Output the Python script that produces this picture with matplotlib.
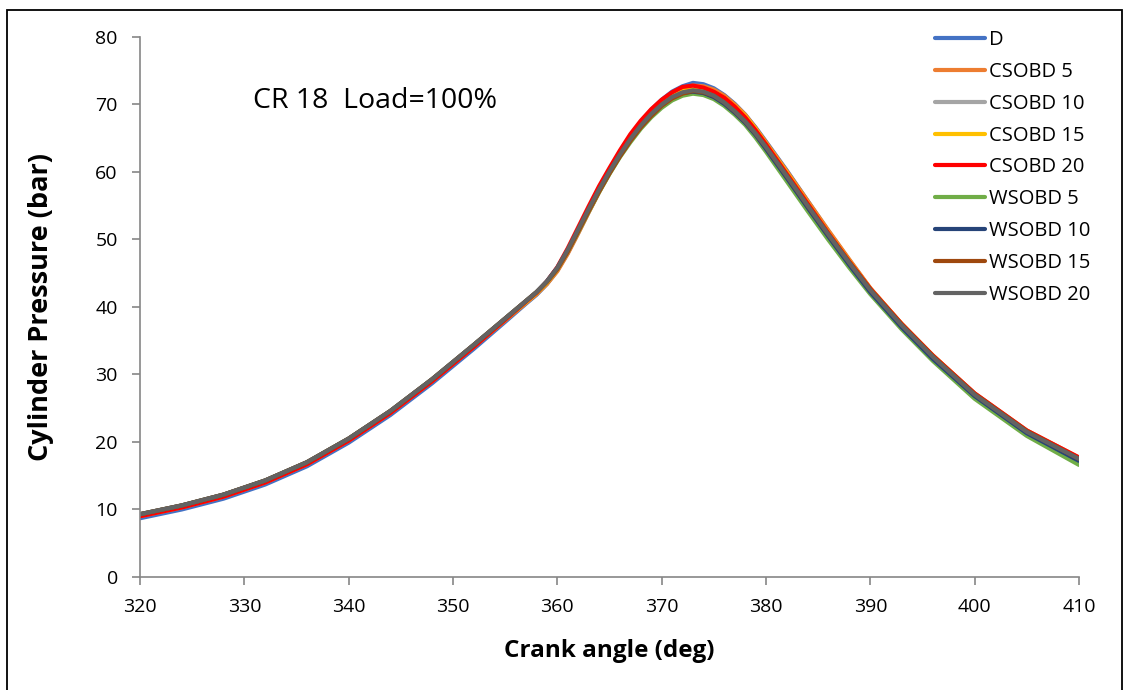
import matplotlib
matplotlib.use("Agg")
import matplotlib.pyplot as plt
from matplotlib.patches import Rectangle

plt.rcParams['font.family'] = ['Open Sans', 'DejaVu Sans']

# crank angle positions (deg), finer steps around the combustion peak
crank_angle = [320, 324, 328, 332, 336, 340, 344, 348, 352, 355, 357,
               358, 359, 360, 361, 362, 363, 364, 365, 366, 367, 368, 369,
               370, 371, 372, 373, 374, 375, 376, 377, 378, 379, 380,
               382, 384, 386, 388, 390, 393, 396, 400, 405, 410]

# cylinder pressure (bar) for each fuel blend
p_d = [8.7, 10.0, 11.6, 13.7, 16.4, 19.9, 24.0, 28.7, 33.8, 37.8, 40.5,
       41.8, 43.4, 45.4, 48.0, 51.0, 54.1, 57.1, 59.9, 62.6, 65.0, 67.3, 69.2,
       70.7, 71.9, 72.7, 73.2, 73.0, 72.4, 71.4, 70.1, 68.5, 66.6, 64.5,
       60.2, 55.7, 51.2, 46.9, 42.7, 37.3, 32.5, 26.9, 21.4, 17.4]
p_csobd5 = [9.0, 10.3, 11.9, 14.0, 16.7, 20.2, 24.3, 29.0, 34.1, 38.0, 40.6,
            41.9, 43.4, 45.3, 47.9, 50.9, 54.0, 57.0, 59.8, 62.4, 64.8, 67.0, 68.9,
            70.4, 71.6, 72.4, 72.8, 72.7, 72.2, 71.3, 70.0, 68.5, 66.5, 64.4,
            60.1, 55.7, 51.3, 47.0, 42.8, 37.5, 32.8, 27.2, 21.7, 17.7]
p_csobd10 = [9.2, 10.5, 12.1, 14.2, 16.9, 20.4, 24.5, 29.2, 34.3, 38.2, 40.8,
             42.1, 43.7, 45.7, 48.4, 51.4, 54.4, 57.3, 60.0, 62.5, 64.8, 66.9, 68.6,
             70.0, 71.1, 71.9, 72.2, 72.0, 71.4, 70.4, 69.1, 67.6, 65.8, 63.8,
             59.5, 55.1, 50.8, 46.6, 42.6, 37.4, 32.7, 27.1, 21.6, 17.6]
p_csobd15 = [9.1, 10.4, 12.0, 14.1, 16.8, 20.3, 24.4, 29.1, 34.2, 38.1, 40.7,
             42.0, 43.6, 45.6, 48.3, 51.3, 54.3, 57.2, 59.9, 62.5, 64.8, 66.9, 68.7,
             70.2, 71.4, 72.1, 72.5, 72.4, 71.9, 71.0, 69.8, 68.3, 66.4, 64.2,
             59.9, 55.4, 51.0, 46.8, 42.7, 37.5, 32.8, 27.1, 21.6, 17.6]
p_csobd20 = [9.0, 10.3, 11.9, 14.0, 16.7, 20.2, 24.3, 29.0, 34.1, 38.1, 40.8,
             42.1, 43.8, 45.9, 48.7, 51.8, 54.9, 57.9, 60.6, 63.2, 65.6, 67.6, 69.3,
             70.7, 71.8, 72.6, 72.8, 72.5, 71.9, 71.0, 69.7, 68.1, 66.2, 64.1,
             59.7, 55.3, 50.9, 46.7, 42.7, 37.5, 32.8, 27.2, 21.7, 17.7]
p_wsobd5 = [9.3, 10.6, 12.2, 14.3, 17.0, 20.5, 24.6, 29.3, 34.4, 38.3, 40.9,
            42.2, 43.7, 45.6, 48.2, 51.1, 54.1, 57.0, 59.7, 62.2, 64.4, 66.4, 68.1,
            69.5, 70.6, 71.3, 71.6, 71.4, 70.8, 69.8, 68.5, 67.0, 65.1, 63.0,
            58.6, 54.2, 49.9, 45.8, 41.9, 36.7, 32.0, 26.4, 20.9, 16.6]
p_wsobd10 = [9.3, 10.6, 12.2, 14.3, 17.0, 20.5, 24.6, 29.3, 34.4, 38.3, 40.9,
             42.2, 43.8, 45.8, 48.4, 51.4, 54.4, 57.3, 60.0, 62.5, 64.8, 66.8, 68.5,
             69.9, 71.0, 71.7, 71.9, 71.7, 71.1, 70.1, 68.8, 67.3, 65.5, 63.4,
             59.1, 54.7, 50.4, 46.2, 42.2, 37.0, 32.3, 26.8, 21.3, 17.2]
p_wsobd15 = [9.3, 10.6, 12.2, 14.3, 17.0, 20.5, 24.6, 29.3, 34.4, 38.3, 40.9,
             42.2, 43.7, 45.6, 48.2, 51.2, 54.2, 57.1, 59.8, 62.3, 64.6, 66.6, 68.3,
             69.8, 70.9, 71.6, 72.0, 71.8, 71.3, 70.3, 69.0, 67.5, 65.7, 63.7,
             59.4, 55.0, 50.7, 46.6, 42.6, 37.4, 32.7, 27.1, 21.6, 17.5]
p_wsobd20 = [9.3, 10.6, 12.2, 14.3, 17.0, 20.5, 24.6, 29.3, 34.4, 38.3, 40.9,
             42.2, 43.8, 45.8, 48.5, 51.5, 54.5, 57.4, 60.1, 62.6, 64.9, 66.9, 68.6,
             70.0, 71.1, 71.8, 72.1, 71.9, 71.3, 70.3, 69.0, 67.5, 65.7, 63.7,
             59.4, 55.0, 50.7, 46.5, 42.5, 37.3, 32.6, 27.0, 21.5, 17.5]

series = [
    ("D", p_d, "#4472C4"),
    ("CSOBD 5", p_csobd5, "#ED7D31"),
    ("CSOBD 10", p_csobd10, "#A5A5A5"),
    ("CSOBD 15", p_csobd15, "#FFC000"),
    ("CSOBD 20", p_csobd20, "#FF0000"),
    ("WSOBD 5", p_wsobd5, "#70AD47"),
    ("WSOBD 10", p_wsobd10, "#264478"),
    ("WSOBD 15", p_wsobd15, "#9E480E"),
    ("WSOBD 20", p_wsobd20, "#636363"),
]

fig = plt.figure(figsize=(11.29, 6.90), dpi=100)
ax = fig.add_axes([0.124, 0.1638, 0.8317, 0.7826])

for label, values, color in series:
    ax.plot(crank_angle, values, color=color, linewidth=3.0, label=label,
            solid_capstyle='round')

ax.set_xlim(320, 410)
ax.set_ylim(0, 80)
ax.set_xticks(range(320, 411, 10))
ax.set_yticks(range(0, 81, 10))

axis_grey = '#868686'
for side in ('top', 'right'):
    ax.spines[side].set_visible(False)
for side in ('left', 'bottom'):
    ax.spines[side].set_color(axis_grey)
    ax.spines[side].set_linewidth(1.2)
ax.tick_params(axis='both', direction='out', length=6, width=1.2,
               color=axis_grey, labelsize=14, labelcolor='black')
ax.tick_params(axis='x', pad=9)
ax.tick_params(axis='y', pad=10)

ax.set_xlabel("Crank angle (deg)", fontsize=17.5, fontweight='bold', labelpad=17)
ax.set_ylabel("Cylinder Pressure (bar)", fontsize=19.5, fontweight='bold', labelpad=30)

ax.text(0.12, 0.882, "CR 18  Load=100%", transform=ax.transAxes,
        fontsize=20.5, ha='left', va='center')

ax.legend(loc='upper left', bbox_to_anchor=(0.838, 1.028), frameon=False,
          fontsize=14.5, handlelength=2.5, handletextpad=0.2,
          labelspacing=0.59, borderaxespad=0)

# outer frame around the whole figure
fig.patches.append(Rectangle((7 / 1129, -0.05), (1122 - 7) / 1129, 1.05 - 10 / 690,
                             transform=fig.transFigure, fill=False,
                             edgecolor='black', linewidth=1.3))

fig.savefig("out.png", dpi=100)
